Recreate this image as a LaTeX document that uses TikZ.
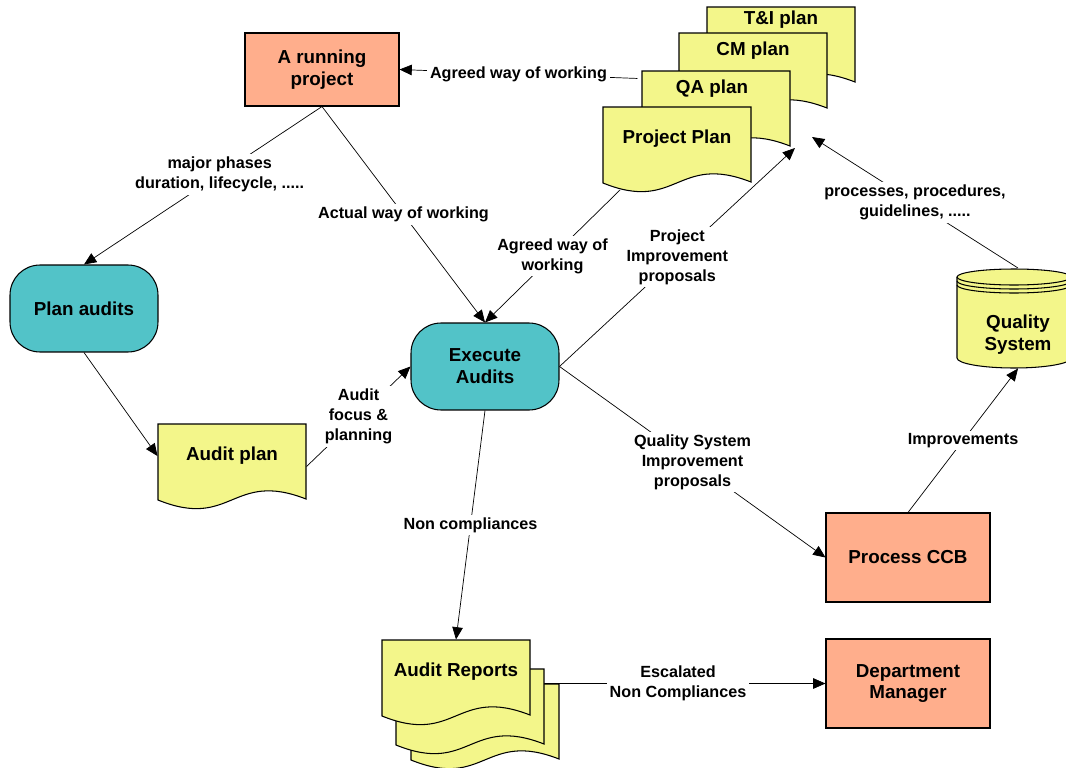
\documentclass[tikz,border=0pt]{standalone}
\usepackage{fontspec}
\setmainfont{Liberation Sans}
\definecolor{runsalmon}{RGB}{255,174,140}
\definecolor{auditteal}{RGB}{82,195,200}
\definecolor{docyellow}{RGB}{243,246,138}
\usetikzlibrary{arrows.meta,backgrounds}

\newcommand{\docsheet}[2]{%
  \begin{scope}[shift={(#1,#2)}]
    \filldraw[sheet] (0,76) -- (0,0) -- (148,0) -- (148,75) .. controls (74,46) and (74,106) .. (0,76) -- cycle;
  \end{scope}}

\begin{document}
\begin{tikzpicture}[x=0.02cm, y=-0.02cm, >={Triangle[length=7pt,width=6pt]}, line width=0.6pt,
  boxfont/.style={font=\bfseries\fontsize{10.7}{12.5}\selectfont},
  box/.style={draw, fill=runsalmon, boxfont, align=center, minimum width=3.28cm, minimum height=1.78cm},
  term/.style={draw, fill=auditteal, boxfont, align=center, rounded corners=0.6cm, minimum width=2.96cm, minimum height=1.74cm},
  doc/.style={boxfont, align=center, minimum width=2.96cm, inner sep=0pt},
  sheet/.style={fill=docyellow, draw=black},
  lbl/.style={fill=white, inner sep=1.5pt, align=center, font=\bfseries\fontsize{9.2}{11.3}\selectfont}]
  \useasboundingbox (0,0) rectangle (1066,768);

  \node[box, minimum width=3.08cm, minimum height=1.46cm] (run) at (322,69.5) {A running\\project};
  \node[term] (plan) at (84,308.5) {Plan audits};
  \node[term] (exec) at (485,366.5) {Execute\\Audits};
  \node[box] (ccb) at (908,557.5) {Process CCB};
  \node[box] (dept) at (908,683.5) {Department\\Manager};

  \docsheet{707}{7}
  \docsheet{679}{33}
  \docsheet{642}{71}
  \docsheet{603}{107}
  \node[doc, minimum height=0.52cm] (tiplan) at (781,20) {T\&I plan};
  \node[doc, minimum height=0.76cm] (cmplan) at (753,51) {CM plan};
  \node[doc, minimum height=0.72cm] (qaplan) at (712,89) {QA plan};
  \node[doc, minimum height=1.28cm] (pplan) at (677,139) {Project Plan};

  \docsheet{158}{424}
  \node[doc, minimum height=1.28cm] (auditplan) at (232,456) {Audit plan};

  \docsheet{411}{684}
  \docsheet{396}{669}
  \docsheet{382}{640}
  \node[doc, minimum height=1.28cm] (reports) at (456,672) {Audit Reports};

  \filldraw[sheet] (957,277) -- (957,358) arc[start angle=180, end angle=0, x radius=57, y radius=10]
    -- (1071,277) arc[start angle=0, end angle=-180, x radius=57, y radius=8] -- cycle;
  \draw (957,277) arc[start angle=180, end angle=0, x radius=57, y radius=8];
  \draw (957,281) arc[start angle=180, end angle=0, x radius=57, y radius=8];
  \draw (957,285) arc[start angle=180, end angle=0, x radius=57, y radius=8];
  \node[doc, minimum height=1.32cm] (qs) at (1018,335) {Quality\\System};

  \coordinate (qstop) at (1018,268);
  \coordinate (qsin) at (812,137);
  \coordinate (ppwave) at (620,190);
  \coordinate (ppin) at (795,148);

  \begin{scope}[on background layer]
    \draw[->] ([yshift=6pt]qaplan.west) -- node[lbl] {Agreed way of working} (run.east);
    \draw[->] (run.south) -- node[lbl, pos=0.43] {major phases\\duration, lifecycle, .....} (plan.north);
    \draw[->] (run.south) -- node[lbl] {Actual way of working} (exec.north);
    \draw[->] (ppwave) -- node[lbl] {Agreed way of\\working} (exec.north);
    \draw[->] (exec.east) -- node[lbl] {Project\\Improvement\\proposals} (ppin);
    \draw[->] (qstop) -- node[lbl] {processes, procedures,\\guidelines, .....} (qsin);
    \draw[->] (plan.south) -- (auditplan.west);
    \draw[->] ([yshift=-6pt]auditplan.east) -- node[lbl] {Audit\\focus \&\\planning} (exec.west);
    \draw[->] (exec.east) -- node[lbl] {Quality System\\Improvement\\proposals} (ccb.west);
    \draw[->] (ccb.north) -- node[lbl] {Improvements} (qs.south);
    \draw[->] (exec.south) -- node[lbl] {Non compliances} (reports.north);
    \draw[->] (reports.east |- dept.west) -- node[lbl] {Escalated\\Non Compliances} (dept.west);
  \end{scope}
\end{tikzpicture}
\end{document}
